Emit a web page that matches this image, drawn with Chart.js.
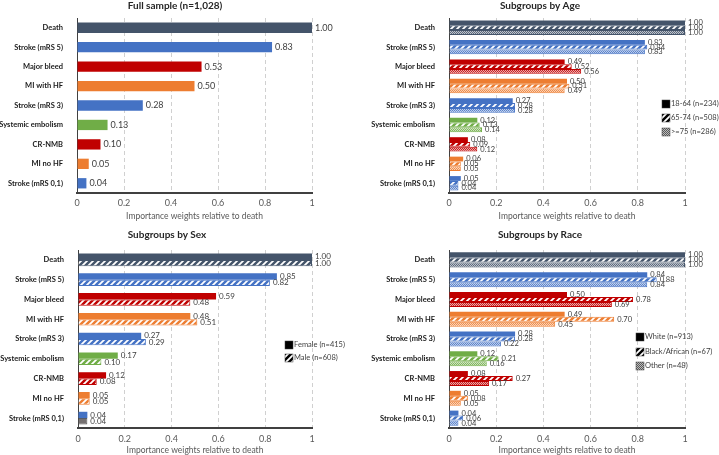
<!DOCTYPE html>
<html>
<head>
<meta charset="utf-8">
<script src="https://cdn.jsdelivr.net/npm/chart.js@4.4.1/dist/chart.umd.min.js"></script>
<style>
  body { margin: 0; background: #fff; }
  .panel { position: absolute; }
  .panel canvas { display: block; }
</style>
</head>
<body>
<div class="panel" style="left:0;top:0"><canvas id="full" width="360" height="228"></canvas></div>
<div class="panel" style="left:360px;top:0"><canvas id="age" width="359" height="228"></canvas></div>
<div class="panel" style="left:0;top:228px"><canvas id="sex" width="360" height="227"></canvas></div>
<div class="panel" style="left:360px;top:228px"><canvas id="race" width="359" height="227"></canvas></div>
<script>
'use strict';

var categories = ['Death', 'Stroke (mRS 5)', 'Major bleed', 'MI with HF', 'Stroke (mRS 3)',
  'Systemic embolism', 'CR-NMB', 'MI no HF', 'Stroke (mRS 0,1)'];
var xTicks = [0, 0.2, 0.4, 0.6, 0.8, 1];

var fullSample = [1.00, 0.83, 0.53, 0.50, 0.28, 0.13, 0.10, 0.05, 0.04];

var age18to64 = [1.00, 0.83, 0.49, 0.50, 0.27, 0.12, 0.08, 0.06, 0.05];
var age65to74 = [1.00, 0.84, 0.52, 0.51, 0.28, 0.13, 0.09, 0.05, 0.04];
var age75plus = [1.00, 0.83, 0.56, 0.49, 0.28, 0.14, 0.12, 0.05, 0.04];

var female = [1.00, 0.85, 0.59, 0.48, 0.27, 0.17, 0.12, 0.05, 0.04];
var male   = [1.00, 0.82, 0.48, 0.51, 0.29, 0.10, 0.08, 0.05, 0.04];

var white = [1.00, 0.84, 0.50, 0.49, 0.28, 0.12, 0.08, 0.05, 0.04];
var black = [1.00, 0.88, 0.78, 0.70, 0.28, 0.21, 0.27, 0.08, 0.06];
var other = [1.00, 0.84, 0.69, 0.45, 0.22, 0.16, 0.17, 0.05, 0.04];

var ageLabels  = ['18-64 (n=234)', '65-74 (n=508)', '>=75 (n=286)'];
var sexLabels  = ['Female (n=415)', 'Male (n=608)'];
var raceLabels = ['White (n=913)', 'Black/African (n=67)', 'Other (n=48)'];

// one colour per outcome
var catColors = ['#44546a', '#4472c4', '#c00000', '#ed7d31', '#4472c4',
  '#70ad47', '#c00000', '#ed7d31', '#4472c4'];

function hatch(color) {
  var c = document.createElement('canvas');
  c.width = 6; c.height = 6;
  var g = c.getContext('2d');
  g.fillStyle = color;
  g.fillRect(0, 0, 6, 6);
  g.strokeStyle = '#fff';
  g.lineWidth = 1.8;
  g.beginPath();
  g.moveTo(-1, 7); g.lineTo(7, -1);
  g.moveTo(-4, 4); g.lineTo(4, -4);
  g.moveTo(2, 10); g.lineTo(10, 2);
  g.stroke();
  return g.createPattern(c, 'repeat');
}

function dots(color) {
  var c = document.createElement('canvas');
  c.width = 2; c.height = 2;
  var g = c.getContext('2d');
  g.fillStyle = '#fff';
  g.fillRect(0, 0, 2, 2);
  g.globalAlpha = 0.35;
  g.fillStyle = color;
  g.fillRect(0, 0, 2, 2);
  g.globalAlpha = 0.8;
  g.fillRect(0, 0, 1, 1);
  g.fillRect(1, 1, 1, 1);
  return g.createPattern(c, 'repeat');
}

var solidFill = catColors;
var hatchFill = catColors.map(hatch);
var dotFill = catColors.map(dots);

var panelTitle = {
  id: 'panelTitle',
  afterDraw: function (chart, args, opts) {
    var ctx = chart.ctx;
    ctx.save();
    ctx.font = 'bold 10px Lato';
    ctx.fillStyle = '#262626';
    ctx.textAlign = 'center';
    ctx.textBaseline = 'middle';
    ctx.fillText(opts.text, opts.x, opts.y);
    ctx.restore();
  }
};

var valueLabels = {
  id: 'valueLabels',
  afterDatasetsDraw: function (chart, args, opts) {
    var ctx = chart.ctx;
    ctx.save();
    ctx.font = opts.size + 'px Lato';
    ctx.fillStyle = '#404040';
    ctx.textBaseline = 'middle';
    chart.data.datasets.forEach(function (ds, i) {
      chart.getDatasetMeta(i).data.forEach(function (bar, j) {
        ctx.fillText(ds.data[j].toFixed(2), bar.x + 3, bar.y);
      });
    });
    ctx.restore();
  }
};

var patternLegend = {
  id: 'patternLegend',
  afterDraw: function (chart, args, opts) {
    if (!opts.items) return;
    var ctx = chart.ctx;
    ctx.save();
    ctx.font = '7.5px Lato';
    ctx.textBaseline = 'middle';
    opts.items.forEach(function (item, i) {
      var y = opts.ys[i];
      ctx.fillStyle = item.fill;
      ctx.fillRect(opts.x, y - 4, 8, 8);
      ctx.strokeStyle = '#404040';
      ctx.lineWidth = 0.5;
      ctx.strokeRect(opts.x, y - 4, 8, 8);
      ctx.fillStyle = '#404040';
      ctx.fillText(item.label, opts.x + 9, y);
    });
    ctx.restore();
  }
};

function makeChart(id, sets, cfg) {
  var datasets = sets.map(function (s) {
    return {
      label: s.label,
      data: s.data,
      backgroundColor: s.fill,
      borderColor: s.border || 'transparent',
      borderWidth: s.border ? 1 : 0,
      barPercentage: 1,
      categoryPercentage: cfg.catPct
    };
  });

  return new Chart(document.getElementById(id), {
    type: 'bar',
    data: { labels: categories, datasets: datasets },
    options: {
      indexAxis: 'y',
      responsive: false,
      animation: false,
      layout: { padding: { top: cfg.top, right: cfg.right, left: 0, bottom: 0 } },
      scales: {
        x: {
          min: 0,
          max: 1,
          afterBuildTicks: function (scale) {
            scale.ticks = xTicks.map(function (v) { return { value: v }; });
          },
          afterFit: function (scale) { scale.height = cfg.xHeight; },
          ticks: {
            padding: cfg.tickPad,
            color: '#595959',
            font: { family: 'Lato', size: 9 },
            callback: function (v) { return String(v); }
          },
          grid: { color: '#d0d0d0', drawTicks: false },
          border: { color: '#404040', width: 2, dash: [4, 3] },
          title: {
            display: true,
            text: 'Importance weights relative to death',
            color: '#595959',
            font: { family: 'Lato', size: 8.5 },
            padding: { top: 0, bottom: cfg.titlePad }
          }
        },
        y: {
          afterFit: function (scale) { scale.width = cfg.yWidth; },
          grid: { display: false },
          border: { color: '#404040', width: 1 },
          ticks: {
            padding: 6,
            color: '#1a1a1a',
            font: { family: 'Lato', size: 7.5, weight: 'bold' }
          }
        }
      },
      plugins: {
        legend: { display: false },
        tooltip: { enabled: false },
        panelTitle: cfg.title,
        valueLabels: { size: cfg.labelSize },
        patternLegend: cfg.legend || {}
      }
    },
    plugins: [panelTitle, valueLabels, patternLegend]
  });
}

makeChart('full', [
  { label: 'Full sample', data: fullSample, fill: solidFill }
], {
  top: 18, right: 48, yWidth: 77, xHeight: 35, tickPad: 5, titlePad: 7,
  catPct: 0.53, labelSize: 9,
  title: { text: 'Full sample (n=1,028)', x: 175, y: 6 }
});

makeChart('age', [
  { label: ageLabels[0], data: age18to64, fill: solidFill },
  { label: ageLabels[1], data: age65to74, fill: hatchFill, border: catColors },
  { label: ageLabels[2], data: age75plus, fill: dotFill, border: catColors }
], {
  top: 18, right: 34, yWidth: 89, xHeight: 35, tickPad: 5, titlePad: 7,
  catPct: 0.74, labelSize: 7.5,
  title: { text: 'Subgroups by Age', x: 180, y: 6 },
  legend: {
    x: 302, ys: [104, 118, 132],
    items: [
      { label: ageLabels[0], fill: '#000' },
      { label: ageLabels[1], fill: hatch('#000') },
      { label: ageLabels[2], fill: dots('#404040') }
    ]
  }
});

// the last male bar is plain grey in the source figure
var maleFill = hatchFill.slice(0, 8).concat(['#767171']);
var maleBorder = catColors.slice(0, 8).concat(['#595959']);

makeChart('sex', [
  { label: sexLabels[0], data: female, fill: solidFill },
  { label: sexLabels[1], data: male, fill: maleFill, border: maleBorder }
], {
  top: 22, right: 48, yWidth: 78, xHeight: 27, tickPad: 6, titlePad: 0,
  catPct: 0.64, labelSize: 8,
  title: { text: 'Subgroups by Sex', x: 167, y: 7 },
  legend: {
    x: 285, ys: [117, 130],
    items: [
      { label: sexLabels[0], fill: '#000' },
      { label: sexLabels[1], fill: hatch('#000') }
    ]
  }
});

makeChart('race', [
  { label: raceLabels[0], data: white, fill: solidFill },
  { label: raceLabels[1], data: black, fill: hatchFill, border: catColors },
  { label: raceLabels[2], data: other, fill: dotFill, border: catColors }
], {
  top: 22, right: 34, yWidth: 89, xHeight: 27, tickPad: 6, titlePad: 0,
  catPct: 0.76, labelSize: 7.5,
  title: { text: 'Subgroups by Race', x: 180, y: 7 },
  legend: {
    x: 276, ys: [109, 124, 138],
    items: [
      { label: raceLabels[0], fill: '#000' },
      { label: raceLabels[1], fill: hatch('#000') },
      { label: raceLabels[2], fill: dots('#404040') }
    ]
  }
});
</script>
</body>
</html>
